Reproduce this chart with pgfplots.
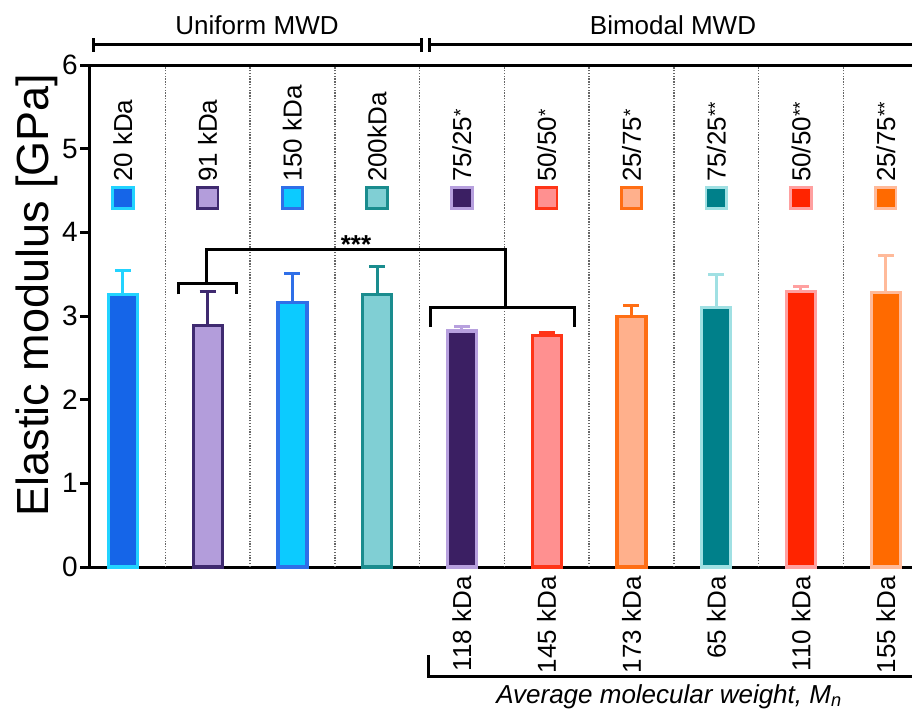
\documentclass[border=0pt]{standalone}
\usepackage{pgfplots}
\pgfplotsset{compat=1.18}
\usepackage{fontspec}
\setmainfont{Liberation Sans}

% fill / edge colour pairs, one per formulation
\definecolor{cAf}{HTML}{1565E8} \definecolor{cAe}{HTML}{22D3FF}
\definecolor{cBf}{HTML}{B39DDB} \definecolor{cBe}{HTML}{3F2A70}
\definecolor{cCf}{HTML}{0CCBFF} \definecolor{cCe}{HTML}{2F6FE8}
\definecolor{cDf}{HTML}{80CFD4} \definecolor{cDe}{HTML}{1A8C8E}
\definecolor{cEf}{HTML}{3B1F63} \definecolor{cEe}{HTML}{B7A0DE}
\definecolor{cFf}{HTML}{FF9090} \definecolor{cFe}{HTML}{FF3518}
\definecolor{cGf}{HTML}{FFB08C} \definecolor{cGe}{HTML}{FF6E14}
\definecolor{cHf}{HTML}{00808A} \definecolor{cHe}{HTML}{A0E0E3}
\definecolor{cIf}{HTML}{FF2400} \definecolor{cIe}{HTML}{FFA0A0}
\definecolor{cJf}{HTML}{FF6A00} \definecolor{cJe}{HTML}{FFBA9A}

\newcommand{\fs}[1]{\fontsize{#1}{#1}\selectfont}
% small raised asterisks used in the bimodal labels
\newcommand{\st}[1]{{\fs{19}\raisebox{4pt}{#1}}}

\pgfplotsset{
  mybar/.style 2 args={ybar, bar width=29pt, bar shift=0pt,
    fill=#1, draw=#2, line width=3.2pt,
    error bars/.cd, y dir=plus, y explicit,
    error bar style={line width=3pt, draw=#2},
    error mark options={rotate=90, line width=3pt, mark size=8pt, draw=#2}},
  swatch/.style 2 args={only marks, mark=square*, mark size=10.3pt,
    mark options={fill=#1, draw=#2, line width=2.8pt}},
}

\begin{document}
\begin{tikzpicture}
\useasboundingbox (0,0) rectangle (912pt,710pt);
\begin{axis}[
  at={(89pt,143pt)}, anchor=south west,
  scale only axis, width=823pt, height=502pt,
  xmin=-0.4, xmax=9.31, ymin=0, ymax=6,
  axis lines*=left, axis line style={line width=3pt},
  clip=false,
  ytick={0,...,6},
  tick align=outside, major tick length=9pt,
  tick style={line width=3pt, black},
  /pgf/number format/assume math mode=true,
  yticklabel style={font=\fs{28}, inner sep=2pt},
  xtick={4,...,9},
  xticklabels={118 kDa,145 kDa,173 kDa,65 kDa,110 kDa,155 kDa},
  xticklabel style={font=\fs{26}, rotate=90, anchor=east, inner sep=0pt},
  x tick style={draw=none},
  extra x ticks={0.5,1.5,...,8.5},
  extra x tick labels={},
  extra x tick style={grid=major, tick style={draw=none},
    major grid style={black!60, line width=1.5pt, dash pattern=on 1.3pt off 1.5pt}},
]
% bars: mean modulus with upper standard deviation
\addplot[mybar={cAf}{cAe}] coordinates {(0,3.26) +- (0,0.28)};
\addplot[mybar={cBf}{cBe}] coordinates {(1,2.89) +- (0,0.40)};
\addplot[mybar={cCf}{cCe}] coordinates {(2,3.16) +- (0,0.35)};
\addplot[mybar={cDf}{cDe}] coordinates {(3,3.26) +- (0,0.33)};
\addplot[mybar={cEf}{cEe}] coordinates {(4,2.82) +- (0,0.06)};
\addplot[mybar={cFf}{cFe}] coordinates {(5,2.77) +- (0,0.03)};
\addplot[mybar={cGf}{cGe}] coordinates {(6,2.99) +- (0,0.14)};
\addplot[mybar={cHf}{cHe}] coordinates {(7,3.10) +- (0,0.40)};
\addplot[mybar={cIf}{cIe}] coordinates {(8,3.29) +- (0,0.06)};
\addplot[mybar={cJf}{cJe}] coordinates {(9,3.28) +- (0,0.44)};

% colour keys above each bar
\addplot[swatch={cAf}{cAe}] coordinates {(0,4.41)};
\addplot[swatch={cBf}{cBe}] coordinates {(1,4.41)};
\addplot[swatch={cCf}{cCe}] coordinates {(2,4.41)};
\addplot[swatch={cDf}{cDe}] coordinates {(3,4.41)};
\addplot[swatch={cEf}{cEe}] coordinates {(4,4.41)};
\addplot[swatch={cFf}{cFe}] coordinates {(5,4.41)};
\addplot[swatch={cGf}{cGe}] coordinates {(6,4.41)};
\addplot[swatch={cHf}{cHe}] coordinates {(7,4.41)};
\addplot[swatch={cIf}{cIe}] coordinates {(8,4.41)};
\addplot[swatch={cJf}{cJe}] coordinates {(9,4.41)};

\begin{scope}[every node/.style={rotate=90, anchor=west, inner sep=0pt, font=\fs{26}}]
\node at (axis cs:0,4.60) {20 kDa};
\node at (axis cs:1,4.60) {91 kDa};
\node at (axis cs:2,4.60) {150 kDa};
\node at (axis cs:3,4.60) {200kDa};
\node at (axis cs:4,4.60) {75/25\st{*}};
\node at (axis cs:5,4.60) {50/50\st{*}};
\node at (axis cs:6,4.60) {25/75\st{*}};
\node at (axis cs:7,4.60) {75/25\st{**}};
\node at (axis cs:8,4.60) {50/50\st{**}};
\node at (axis cs:9,4.60) {25/75\st{**}};
\end{scope}

% top frame line
\draw[line width=3pt] (rel axis cs:0,1) -- (rel axis cs:1,1);

% significance brackets
\draw[line width=3pt] (axis cs:0.66,3.26) -- (axis cs:0.66,3.385) -- (axis cs:1.34,3.385) -- (axis cs:1.34,3.26);
\draw[line width=3pt] (axis cs:0.99,3.385) -- (axis cs:0.99,3.79) -- (axis cs:4.51,3.79) -- (axis cs:4.51,3.10);
\draw[line width=3pt] (axis cs:3.63,2.87) -- (axis cs:3.63,3.10) -- (axis cs:5.33,3.10) -- (axis cs:5.33,2.87);
\node[anchor=base, font=\bfseries\fs{26}] at (axis cs:2.75,3.75) {***};
\end{axis}

% y-axis title
\node[rotate=90, font=\fs{45}] at (37pt,415pt) {Elastic modulus [GPa]};

% group headers
\node[anchor=base, font=\fs{26}] at (257pt,675pt) {Uniform MWD};
\node[anchor=base, font=\fs{26}] at (673pt,675pt) {Bimodal MWD};
\draw[line width=3pt] (93pt,665pt) -- (421pt,665pt);
\draw[line width=3pt] (93pt,658pt) -- (93pt,672pt);
\draw[line width=3pt] (421pt,658pt) -- (421pt,672pt);
\draw[line width=3pt] (429pt,665pt) -- (912pt,665pt);
\draw[line width=3pt] (429pt,658pt) -- (429pt,672pt);

% bracket and caption under the bimodal labels
\draw[line width=3pt] (428pt,55pt) -- (428pt,34pt) -- (912pt,34pt);
\node[anchor=base, font=\itshape\fs{26}] at (669pt,7pt) {Average molecular weight, M\textsubscript{n}};
\end{tikzpicture}
\end{document}
